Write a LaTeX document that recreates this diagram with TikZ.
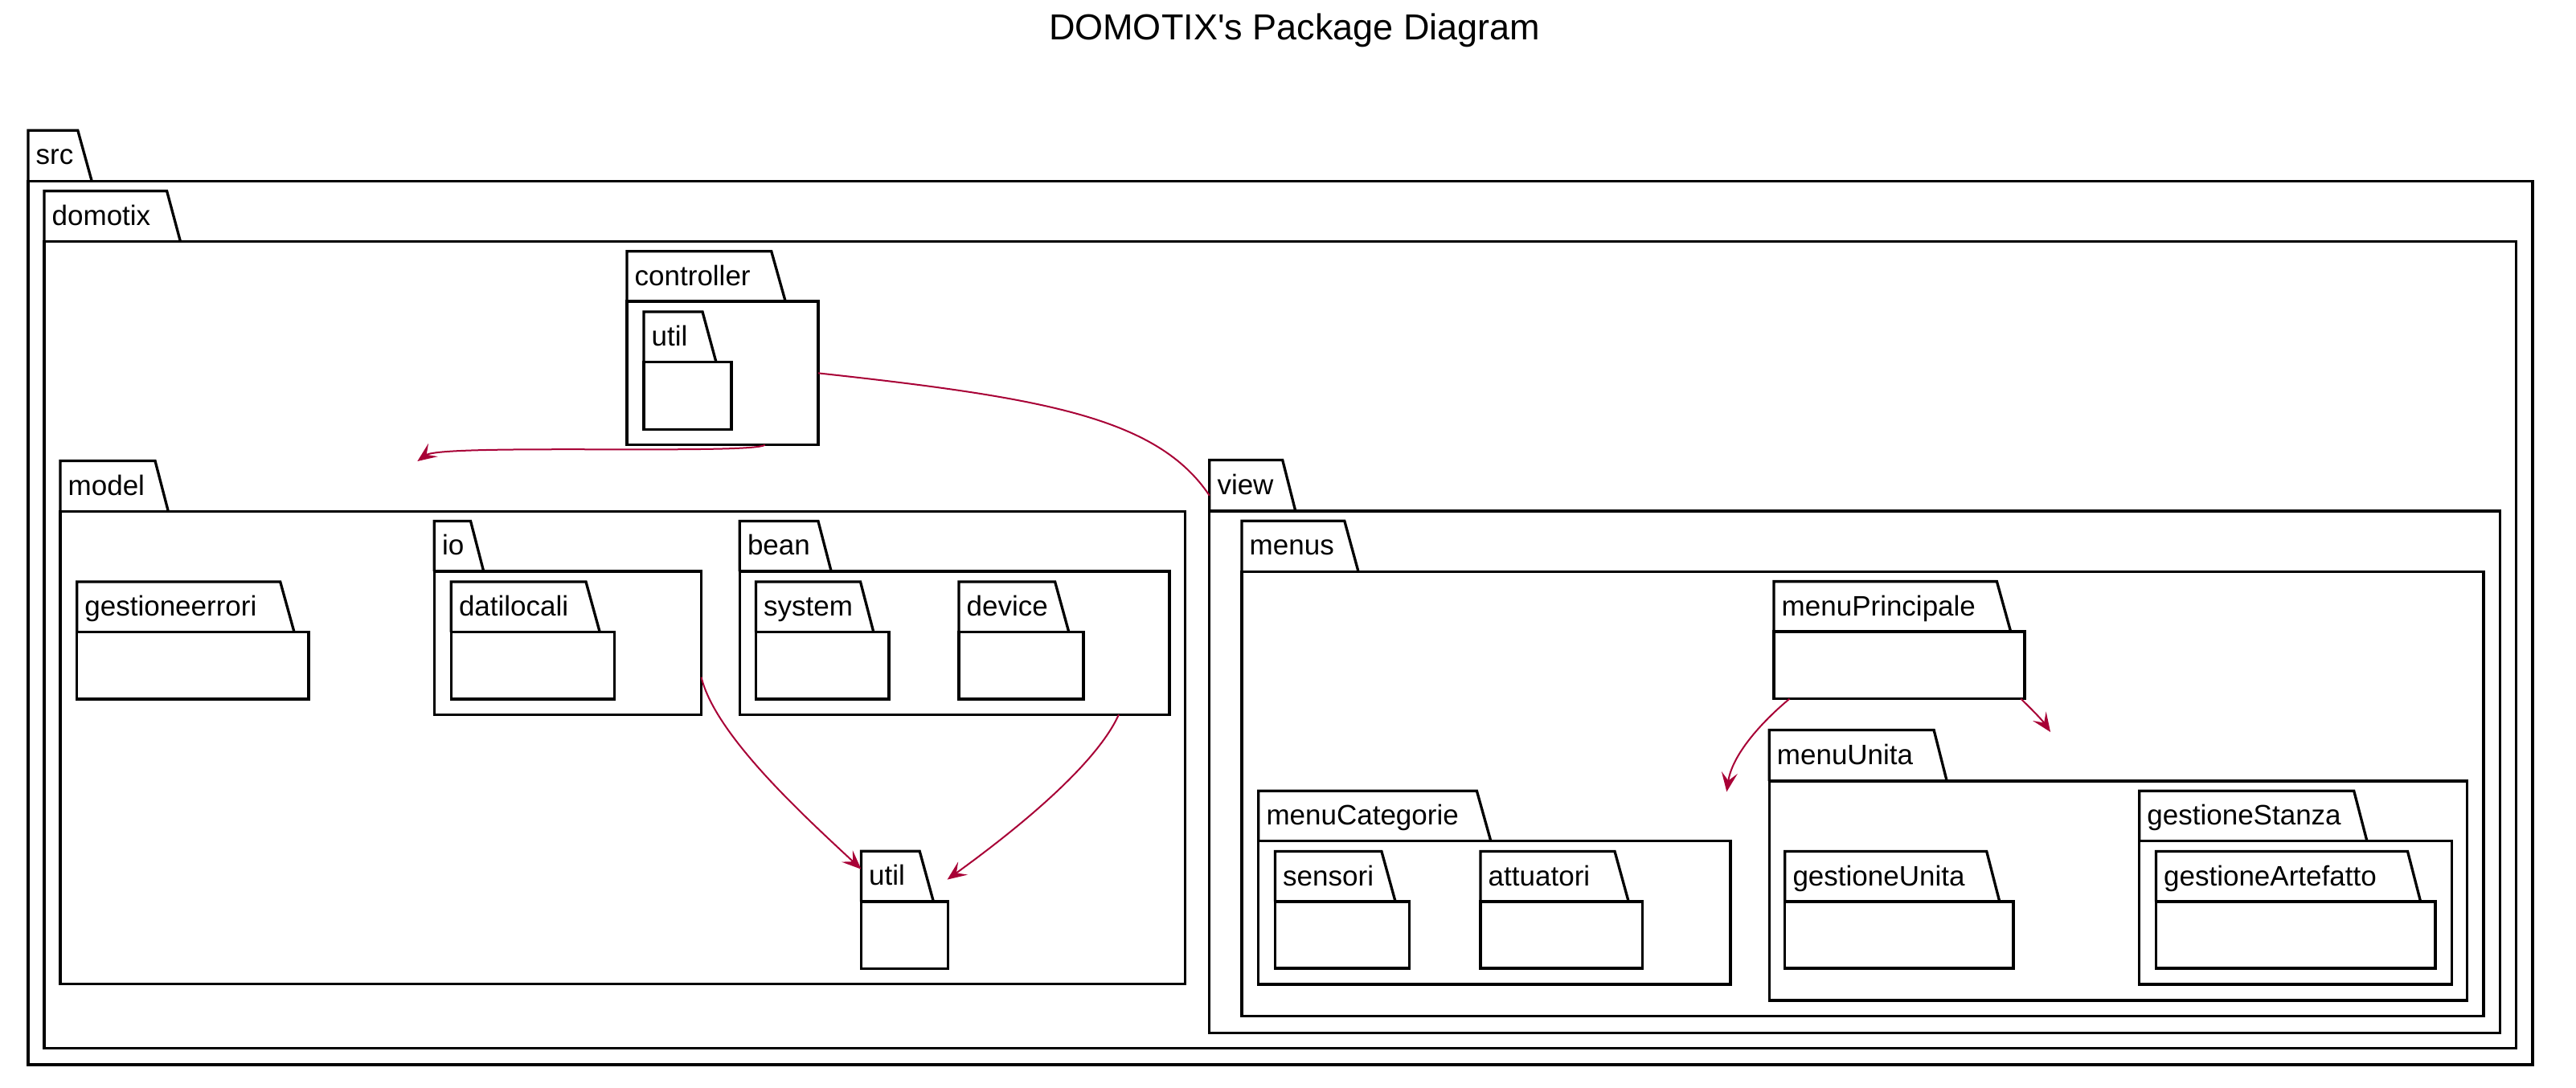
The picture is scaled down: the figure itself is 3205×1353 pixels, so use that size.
\documentclass[tikz,border=0pt]{standalone}
\usepackage{fontspec}
\setmainfont{Liberation Sans}[Ligatures=TeXOff]
\usetikzlibrary{fit,arrows.meta}
\definecolor{arrowred}{HTML}{A80036}
\tikzset{
  pkgline/.style={line width=3.3pt, line join=miter, draw=black},
  pkgbody/.style={draw=black, line width=3.3pt, inner sep=0pt, outer sep=0pt},
  pkglabel/.style={anchor=base west, inner sep=0pt, font=\fontsize{35}{40}\selectfont},
  titlelabel/.style={anchor=base west, inner sep=0pt, font=\fontsize{45}{50}\selectfont},
  dep/.style={draw=arrowred, line width=2pt, -{Stealth[length=24pt,width=20pt,inset=10pt]}},
  link/.style={draw=arrowred, line width=2pt},
}
% #1 name, #2 label, #3 left, #4 top, #5 tab top-right, #6 tab bottom-right, #7 header y, #8 right, #9 bottom
\newcommand\pkg[9]{%
  \draw[pkgline] (#3,#7) -- (#3,#4) -- (#5,#4) -- (#6,#7);
  \node[pkgbody, fit={(#3,#7) (#8,#9)}] (#1) {};
  \node[pkglabel] (#1-label) at (#3+9.5,#4+42.5) {#2};
}
\begin{document}
\begin{tikzpicture}[x=1pt,y=-1pt]
\useasboundingbox (0,0) rectangle (3205,1353);
\node[titlelabel] (title) at (1304.8,49.5) {DOMOTIX's Package Diagram};

\pkg{src}{src}{35}{162.3}{96.8}{114.3}{225.7}{3150.9}{1325}
\pkg{domotix}{domotix}{55}{237.7}{207.6}{224.5}{300.7}{3130.2}{1304.4}
\pkg{controller}{controller}{780}{312.7}{959.7}{977.2}{375}{1018}{553.7}
\pkg{ctrlutil}{util}{801}{388}{874}{891}{450.7}{910}{534.3}
\pkg{model}{model}{75}{573.5}{193}{209.3}{636.2}{1474.5}{1224.5}
\pkg{gestioneerrori}{gestioneerrori}{95.7}{724}{348.7}{366}{786.5}{384}{870}
\pkg{io}{io}{540.3}{648.4}{585.5}{601.7}{711}{872.5}{889.2}
\pkg{datilocali}{datilocali}{561.3}{724}{729}{746.2}{786.5}{764.4}{870}
\pkg{bean}{bean}{920.3}{648.4}{1017.9}{1034.2}{711}{1455.1}{889.2}
\pkg{system}{system}{940.4}{724}{1070.5}{1086.8}{786.5}{1105.9}{870}
\pkg{device}{device}{1193}{724}{1312.6}{1329.8}{786.5}{1348}{870}
\pkg{modelutil}{util}{1071.5}{1059.3}{1144.2}{1161.4}{1122}{1179.6}{1205.4}
\pkg{view}{view}{1504.8}{572.5}{1595.7}{1611.8}{636}{3110.6}{1285.4}
\pkg{menus}{menus}{1545}{648.3}{1672.8}{1690}{711.3}{3089.9}{1264.4}
\pkg{menuPrincipale}{menuPrincipale}{2207}{723.6}{2484.4}{2501.7}{786.1}{2518.9}{869.6}
\pkg{menuUnita}{menuUnita}{2201.2}{908.5}{2406.1}{2422.2}{972}{3069.2}{1245}
\pkg{menuCategorie}{menuCategorie}{1565.8}{984.3}{1837.4}{1854.7}{1046.2}{2152.9}{1225}
\pkg{sensori}{sensori}{1586.5}{1059.5}{1718.9}{1736.1}{1122}{1753.4}{1205}
\pkg{attuatori}{attuatori}{1842}{1059.5}{2009}{2026.2}{1122}{2043.5}{1205}
\pkg{gestioneUnita}{gestioneUnita}{2220.8}{1059.5}{2471.7}{2487.8}{1122}{2505.1}{1205}
\pkg{gestioneStanza}{gestioneStanza}{2661.7}{984.3}{2928.7}{2944.8}{1046.2}{3050.7}{1225}
\pkg{gestioneArtefatto}{gestioneArtefatto}{2682.4}{1059.5}{2995.5}{3011.6}{1122}{3030}{1205}

% connectors
\coordinate (modelTip) at (519.3,574);
\draw[dep] ([xshift=-66.3pt]controller.south east) .. controls (935,566) and (550,552) .. (modelTip);
\draw[link] (controller.east) .. controls (1300,495) and (1440,520) .. ([yshift=19.3pt]view.north west);
\draw[dep] ([yshift=-42.5pt]io.east) .. controls (890,915) and (1000,1015) .. ([yshift=40.3pt]modelutil.north west);
\draw[dep] ([xshift=-63.1pt]bean.south east) .. controls (1360,960) and (1240,1050) .. ([xshift=-1pt,yshift=27.4pt]modelutil.north east);
\coordinate (catTip) at (2148.3,985.3);
\draw[dep] ([xshift=19.5pt]menuPrincipale.south west) .. controls (2190,900) and (2155,940) .. (catTip);
\coordinate (unitaTip) at (2551.1,911);
\draw[dep] ([xshift=-4.6pt]menuPrincipale.south east) .. controls (2525,880) and (2540,895) .. (unitaTip);
\end{tikzpicture}
\end{document}
